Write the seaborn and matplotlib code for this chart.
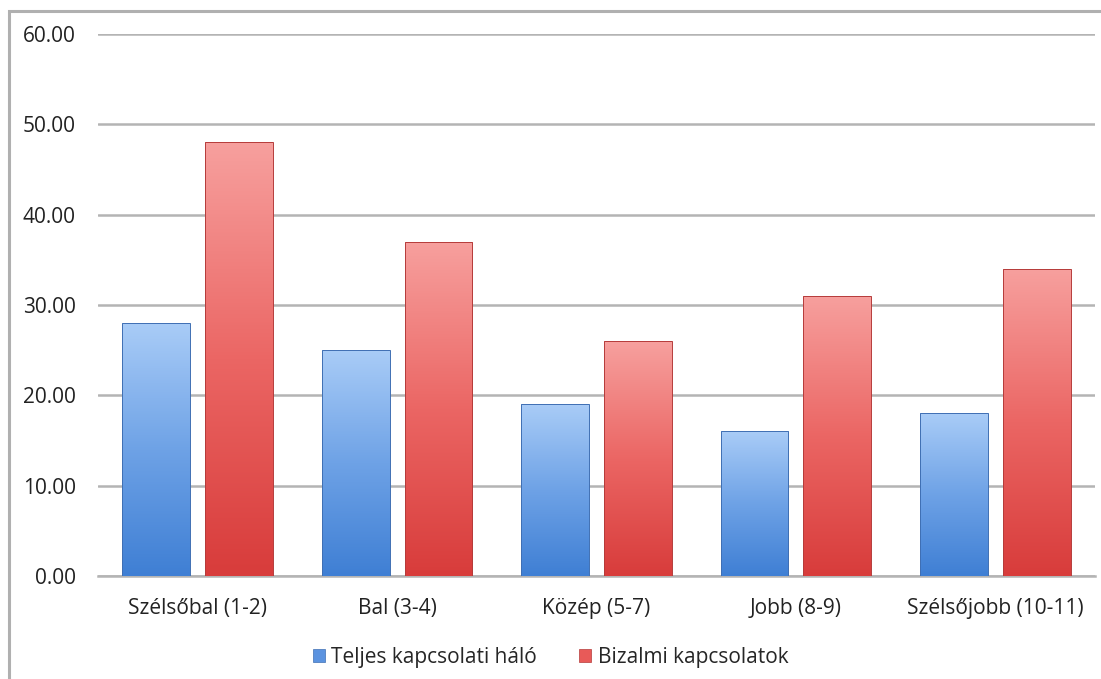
import numpy as np
import pandas as pd
import matplotlib
matplotlib.use("Agg")
import matplotlib.pyplot as plt
import seaborn as sns
from matplotlib.colors import LinearSegmentedColormap
from matplotlib.patches import Rectangle

categories = ["Szélsőbal (1-2)", "Bal (3-4)", "Közép (5-7)", "Jobb (8-9)", "Szélsőjobb (10-11)"]
series_names = ["Teljes kapcsolati háló", "Bizalmi kapcsolatok"]
teljes = [28, 25, 19, 16, 18]
bizalmi = [48, 37, 26, 31, 34]
yticks = [0, 10, 20, 30, 40, 50, 60]

df = pd.DataFrame({
    "cat": categories * 2,
    "series": [series_names[0]] * len(categories) + [series_names[1]] * len(categories),
    "value": teljes + bizalmi,
})

sns.set_theme(style="white")
plt.rcParams["font.family"] = ["Open Sans", "DejaVu Sans"]

W, H = 1101, 679
fig = plt.figure(figsize=(W / 100, H / 100), dpi=100)
ax = fig.add_axes([98 / W, 1 - 576 / H, (1095 - 98) / W, (576 - 34) / H])

base_cols = {series_names[0]: "#5b93e0", series_names[1]: "#e85a58"}
sns.barplot(data=df, x="cat", y="value", hue="series", order=categories,
            hue_order=series_names, palette=base_cols, width=0.83, gap=0.18,
            ax=ax, legend=False, errorbar=None, zorder=3, saturation=1)

grads = {
    series_names[0]: LinearSegmentedColormap.from_list("b", ["#3f7fd4", "#6ea2e6", "#a9ccf7"]),
    series_names[1]: LinearSegmentedColormap.from_list("r", ["#d83c3b", "#eb6664", "#f7a09e"]),
}
edge = {series_names[0]: "#3f6fb3", series_names[1]: "#b53b3a"}
grad = np.linspace(0, 1, 256).reshape(-1, 1)
n = len(categories)
for i, p in enumerate(ax.patches[: 2 * n]):
    s = series_names[i // n]
    x0, y0 = p.get_x(), p.get_y()
    w, h = p.get_width(), p.get_height()
    p.set_facecolor("none")
    p.set_edgecolor(edge[s])
    p.set_linewidth(0.7)
    im = ax.imshow(grad, extent=[x0, x0 + w, y0, y0 + h], origin="lower",
                   cmap=grads[s], aspect="auto", zorder=2.9)
    im.set_clip_path(p)

ax.set_xlim(-0.5, n - 0.5)
ax.set_ylim(0, 60)
ax.set_yticks(yticks)
ax.set_yticklabels([f"{v:.2f}" for v in yticks])
ax.set_xlabel("")
ax.set_ylabel("")
ax.grid(axis="y", color="#b4b4b4", linewidth=1.8, zorder=0)
ax.set_axisbelow(True)
for sp in ["left", "right", "top"]:
    ax.spines[sp].set_visible(False)
ax.spines["bottom"].set_color("#b4b4b4")
ax.spines["bottom"].set_linewidth(1.8)
ax.tick_params(axis="both", length=0, labelsize=15, colors="#222222")
ax.tick_params(axis="y", pad=16)
ax.tick_params(axis="x", pad=16)

handles = [Rectangle((0, 0), 1, 1, facecolor=base_cols[s], edgecolor=edge[s], linewidth=0.5) for s in series_names]
fig.legend(handles, series_names, loc="center", bbox_to_anchor=(0.5, 1 - 657 / H),
           ncol=2, frameon=False, fontsize=15, handlelength=0.6, handleheight=0.6,
           handletextpad=0.3, columnspacing=2.0)

fig.patches.append(Rectangle((9 / W, -0.05), 1.1, 1.05 - 11 / H,
                             transform=fig.transFigure, fill=False, edgecolor="#b0b0b0",
                             linewidth=2.2, clip_on=False))

fig.savefig("out.png", dpi=100)
